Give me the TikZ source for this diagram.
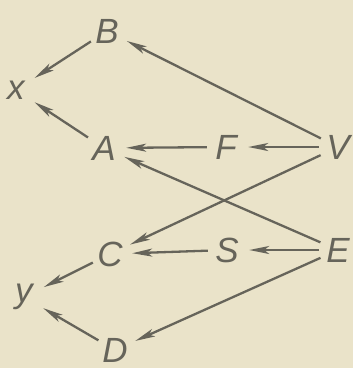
\documentclass[tikz,border=0pt]{standalone}
\usepackage{fontspec}
\setsansfont{Liberation Sans}
\usetikzlibrary{arrows.meta}
\definecolor{paper}{HTML}{EAE3C9}
\definecolor{ink}{HTML}{66645A}
\tikzset{
  letter/.style={circle,minimum size=38pt,inner sep=0pt,text=ink,
                 font=\fontsize{35}{35}\selectfont\sffamily\itshape},
  flowarr/.style={-{Stealth[length=20pt,width=8pt,inset=5pt]},
                  line width=2.3pt,color=ink,shorten >=3pt}
}
\begin{document}
\begin{tikzpicture}[x=1pt,y=-1pt]
  \fill[paper] (0,0) rectangle (353,368);
  \useasboundingbox (0,0) rectangle (353,368);
  \node[letter] (B) at (107,31) {B};
  \node[letter] (x) at (16,90) {x};
  \node[letter] (A) at (104,148) {A};
  \node[letter] (F) at (226,147) {F};
  \node[letter] (V) at (338,147) {V};
  \node[letter] (C) at (110,254) {C};
  \node[letter] (S) at (227,250) {S};
  \node[letter] (E) at (338,250) {E};
  \node[letter] (y) at (24,297) {y};
  \node[letter] (D) at (115,350) {D};
  \draw[flowarr] (V) -- (B);
  \draw[flowarr] (V) -- (F);
  \draw[flowarr] (F) -- (A);
  \draw[flowarr] (V) -- (C);
  \draw[flowarr] (E) -- (A);
  \draw[flowarr] (E) -- (S);
  \draw[flowarr] (S) -- (C);
  \draw[flowarr] (E) -- (D);
  \draw[flowarr] (B) -- (x);
  \draw[flowarr] (A) -- (x);
  \draw[flowarr] (C) -- (y);
  \draw[flowarr] (D) -- (y);
\end{tikzpicture}
\end{document}
